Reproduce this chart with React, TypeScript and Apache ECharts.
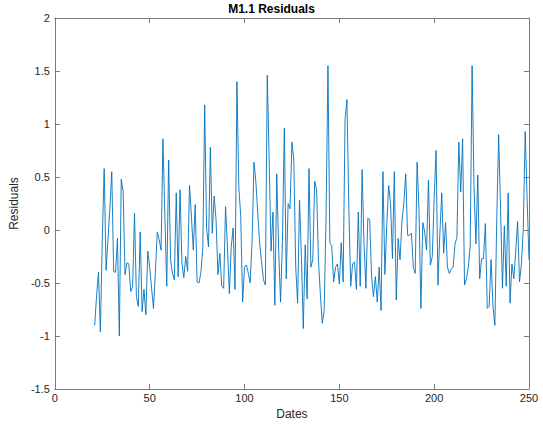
import React, { useEffect, useRef } from "react";
import * as echarts from "echarts";

const titleText = "M1.1 Residuals";
const xAxisName = "Dates";
const yAxisName = "Residuals";
const startDate = 21;
const residuals = [
  -0.90, -0.62, -0.40, -0.96, -0.10, 0.58, -0.38, -0.09, 0.20, 0.55,
  -0.39, -0.40, -0.08, -1.00, 0.48, 0.36, -0.42, -0.31, -0.32, -0.58,
  -0.54, 0.16, -0.63, -0.72, -0.02, -0.77, -0.56, -0.80, -0.20, -0.35,
  -0.55, -0.74, -0.40, -0.02, -0.09, -0.19, 0.86, 0.13, -0.53, 0.66,
  -0.28, -0.41, -0.47, 0.35, -0.44, 0.38, -0.31, -0.45, -0.25, -0.39,
  0.42, 0.13, -0.19, 0.24, -0.49, -0.50, -0.40, -0.17, 1.18, 0.02,
  -0.16, 0.78, -0.03, 0.32, 0.09, -0.42, -0.22, -0.53, -0.55, 0.22,
  -0.16, -0.60, -0.16, 0.02, -0.56, 1.40, 0.41, 0.13, -0.68, -0.35,
  -0.33, -0.41, -0.50, -0.10, 0.64, 0.45, 0.15, -0.13, -0.30, -0.47,
  -0.52, 1.46, 0.66, -0.20, 0.17, -0.71, 0.53, -0.18, -0.68, -0.10,
  0.96, -0.46, 0.25, 0.20, 0.83, 0.66, -0.35, -0.69, 0.28, -0.25,
  -0.93, -0.14, -0.65, 0.58, -0.35, -0.28, 0.46, 0.38, -0.29, -0.61,
  -0.88, -0.76, 0.13, 1.55, -0.12, -0.15, -0.49, -0.35, -0.32, -0.51,
  -0.12, -0.49, 1.04, 1.23, 0.22, -0.53, -0.32, -0.30, -0.56, 0.17,
  -0.53, 0.57, -0.12, -0.55, 0.11, 0.10, -0.44, -0.63, -0.44, -0.68,
  -0.35, -0.76, 0.55, -0.42, 0.05, 0.42, 0.25, -0.27, 0.55, -0.66,
  -0.08, -0.28, 0.08, 0.25, 0.53, -0.05, -0.05, -0.03, -0.35, -0.41,
  0.64, 0.19, -0.74, 0.07, -0.02, -0.19, 0.47, -0.33, -0.25, 0.30,
  0.75, -0.52, -0.03, 0.35, -0.22, 0.07, -0.35, -0.41, -0.37, -0.35,
  -0.13, -0.07, 0.83, 0.36, 0.86, -0.52, -0.46, -0.35, -0.15, 1.55,
  0.41, -0.13, 0.52, -0.46, -0.27, -0.27, 0.06, -0.74, -0.72, -0.28,
  -0.72, -0.90, 0.10, 0.90, 0.20, -0.55, 0.04, -0.53, 0.35, -0.69,
  -0.32, -0.46, -0.20, 0.08, -0.49, -0.32, 0.02, 0.93, 0.30, -0.28,
];

const FONT = "'Liberation Sans', Arial, Helvetica, sans-serif";
const AXIS_COLOR = "#7a7a7a";
const TEXT_COLOR = "#262626";

export default function App() {
  const ref = useRef<HTMLDivElement>(null);
  useEffect(() => {
    if (!ref.current) return;
    const chart = echarts.init(ref.current, undefined, { renderer: "svg" });
    const axisLine = { show: true, onZero: false, lineStyle: { color: AXIS_COLOR, width: 1 } };
    const tickIn = { show: true, inside: true, length: 5, lineStyle: { color: AXIS_COLOR } };
    chart.setOption({
      animation: false,
      backgroundColor: "#ffffff",
      title: {
        text: titleText,
        left: "center",
        top: 3,
        padding: 0,
        textStyle: { fontFamily: FONT, fontSize: 12, fontWeight: "bold", color: "#000" },
      },
      grid: { left: 54, right: 14, top: 18, bottom: 36, show: false },
      xAxis: [
        {
          type: "value",
          position: "bottom",
          min: 0,
          max: 250,
          interval: 50,
          name: xAxisName,
          nameLocation: "middle",
          nameGap: 16,
          nameTextStyle: { fontFamily: FONT, fontSize: 12, color: TEXT_COLOR },
          axisLine,
          axisTick: tickIn,
          splitLine: { show: false },
          axisLabel: { fontFamily: FONT, fontSize: 11, color: TEXT_COLOR, margin: 3 },
        },
        {
          type: "value",
          position: "top",
          min: 0,
          max: 250,
          interval: 50,
          axisLine,
          axisTick: tickIn,
          splitLine: { show: false },
          axisLabel: { show: false },
        },
      ],
      yAxis: [
        {
          type: "value",
          position: "left",
          min: -1.5,
          max: 2,
          interval: 0.5,
          name: yAxisName,
          nameLocation: "middle",
          nameGap: 20,
          nameRotate: 90,
          nameTextStyle: { fontFamily: FONT, fontSize: 12, color: TEXT_COLOR },
          axisLine,
          axisTick: tickIn,
          splitLine: { show: false },
          axisLabel: { fontFamily: FONT, fontSize: 11, color: TEXT_COLOR, margin: 5 },
        },
        {
          type: "value",
          position: "right",
          min: -1.5,
          max: 2,
          interval: 0.5,
          axisLine,
          axisTick: tickIn,
          splitLine: { show: false },
          axisLabel: { show: false },
        },
      ],
      series: [
        {
          type: "line",
          data: residuals.map((v, i) => [startDate + i, v]),
          showSymbol: false,
          symbol: "none",
          lineStyle: { color: "#0072BD", width: 0.9 },
          itemStyle: { color: "#0072BD" },
        },
      ],
    });
    return () => chart.dispose();
  }, []);
  return (
    <div
      ref={ref}
      style={{ position: "fixed", left: 0, top: 0, width: 543, height: 425 }}
    />
  );
}
